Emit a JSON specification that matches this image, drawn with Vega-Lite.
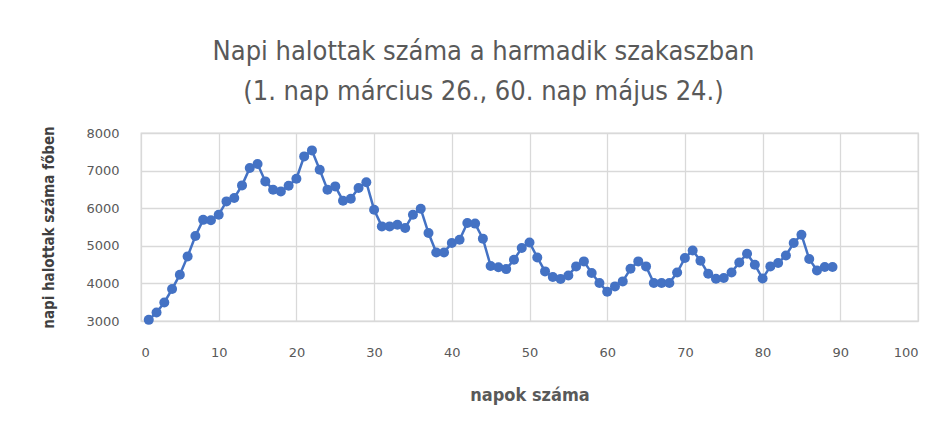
{
  "$schema": "https://vega.github.io/schema/vega-lite/v6.json",
  "autosize": "none",
  "width": 777,
  "height": 188,
  "padding": {"left": 141, "top": 133, "right": 33, "bottom": 113},
  "background": "white",
  "title": {
    "text": ["Napi halottak száma a harmadik szakaszban", "(1. nap március 26., 60. nap május 24.)"],
    "font": "DejaVu Sans Condensed",
    "fontSize": 27,
    "fontWeight": "normal",
    "color": "#595959",
    "lineHeight": 40,
    "anchor": "middle",
    "dx": -46,
    "offset": 20
  },
  "data": {"values": [
    {"nap": 1, "halott": 3030}, {"nap": 2, "halott": 3228}, {"nap": 3, "halott": 3494}, {"nap": 4, "halott": 3850},
    {"nap": 5, "halott": 4231}, {"nap": 6, "halott": 4718}, {"nap": 7, "halott": 5260}, {"nap": 8, "halott": 5690},
    {"nap": 9, "halott": 5680}, {"nap": 10, "halott": 5827}, {"nap": 11, "halott": 6181}, {"nap": 12, "halott": 6271},
    {"nap": 13, "halott": 6607}, {"nap": 14, "halott": 7069}, {"nap": 15, "halott": 7175}, {"nap": 16, "halott": 6713},
    {"nap": 17, "halott": 6492}, {"nap": 18, "halott": 6447}, {"nap": 19, "halott": 6598}, {"nap": 20, "halott": 6784},
    {"nap": 21, "halott": 7378}, {"nap": 22, "halott": 7537}, {"nap": 23, "halott": 7024}, {"nap": 24, "halott": 6492},
    {"nap": 25, "halott": 6580}, {"nap": 26, "halott": 6199}, {"nap": 27, "halott": 6252}, {"nap": 28, "halott": 6537},
    {"nap": 29, "halott": 6690}, {"nap": 30, "halott": 5960}, {"nap": 31, "halott": 5516}, {"nap": 32, "halott": 5516},
    {"nap": 33, "halott": 5561}, {"nap": 34, "halott": 5473}, {"nap": 35, "halott": 5827}, {"nap": 36, "halott": 5985},
    {"nap": 37, "halott": 5340}, {"nap": 38, "halott": 4824}, {"nap": 39, "halott": 4824}, {"nap": 40, "halott": 5074},
    {"nap": 41, "halott": 5162}, {"nap": 42, "halott": 5606}, {"nap": 43, "halott": 5590}, {"nap": 44, "halott": 5190},
    {"nap": 45, "halott": 4465}, {"nap": 46, "halott": 4430}, {"nap": 47, "halott": 4380}, {"nap": 48, "halott": 4630},
    {"nap": 49, "halott": 4941}, {"nap": 50, "halott": 5090}, {"nap": 51, "halott": 4691}, {"nap": 52, "halott": 4319},
    {"nap": 53, "halott": 4170}, {"nap": 54, "halott": 4120}, {"nap": 55, "halott": 4212}, {"nap": 56, "halott": 4452},
    {"nap": 57, "halott": 4585}, {"nap": 58, "halott": 4276}, {"nap": 59, "halott": 4010}, {"nap": 60, "halott": 3780},
    {"nap": 61, "halott": 3920}, {"nap": 62, "halott": 4053}, {"nap": 63, "halott": 4390}, {"nap": 64, "halott": 4585},
    {"nap": 65, "halott": 4452}, {"nap": 66, "halott": 4010}, {"nap": 67, "halott": 4010}, {"nap": 68, "halott": 4010},
    {"nap": 69, "halott": 4290}, {"nap": 70, "halott": 4675}, {"nap": 71, "halott": 4877}, {"nap": 72, "halott": 4603},
    {"nap": 73, "halott": 4257}, {"nap": 74, "halott": 4125}, {"nap": 75, "halott": 4143}, {"nap": 76, "halott": 4292},
    {"nap": 77, "halott": 4558}, {"nap": 78, "halott": 4789}, {"nap": 79, "halott": 4497}, {"nap": 80, "halott": 4130},
    {"nap": 81, "halott": 4452}, {"nap": 82, "halott": 4542}, {"nap": 83, "halott": 4744}, {"nap": 84, "halott": 5074},
    {"nap": 85, "halott": 5295}, {"nap": 86, "halott": 4648}, {"nap": 87, "halott": 4345}, {"nap": 88, "halott": 4436},
    {"nap": 89, "halott": 4436}
  ]},
  "mark": {
    "type": "line",
    "color": "#4472C4",
    "strokeWidth": 2.5,
    "point": {"filled": true, "size": 100, "color": "#4472C4", "opacity": 1}
  },
  "encoding": {
    "x": {
      "field": "nap", "type": "quantitative",
      "scale": {"domain": [0, 100], "nice": false, "zero": false},
      "axis": {
        "title": "napok száma",
        "values": [0, 10, 20, 30, 40, 50, 60, 70, 80, 90, 100],
        "format": "d",
        "grid": true, "gridColor": "#d9d9d9", "gridWidth": 1.3,
        "domain": false, "ticks": false,
        "labelPadding": 25, "labelFont": "DejaVu Sans", "labelFontSize": 13, "labelColor": "#595959",
        "titleFont": "DejaVu Sans Condensed", "titleFontSize": 18, "titleFontWeight": "bold", "titleColor": "#595959",
        "titlePadding": 27
      }
    },
    "y": {
      "field": "halott", "type": "quantitative",
      "scale": {"domain": [3000, 8000], "nice": false, "zero": false},
      "axis": {
        "title": "napi halottak száma főben",
        "values": [3000, 4000, 5000, 6000, 7000, 8000],
        "format": "d",
        "grid": true, "gridColor": "#d9d9d9", "gridWidth": 1.3,
        "domain": false, "ticks": false,
        "labelPadding": 22, "labelFont": "DejaVu Sans", "labelFontSize": 13, "labelColor": "#595959",
        "titleFont": "DejaVu Sans Condensed", "titleFontSize": 15, "titleFontWeight": "bold", "titleColor": "#404040",
        "titlePadding": 29
      }
    }
  },
  "config": {"view": {"stroke": "#d9d9d9", "strokeWidth": 1.3}}
}
